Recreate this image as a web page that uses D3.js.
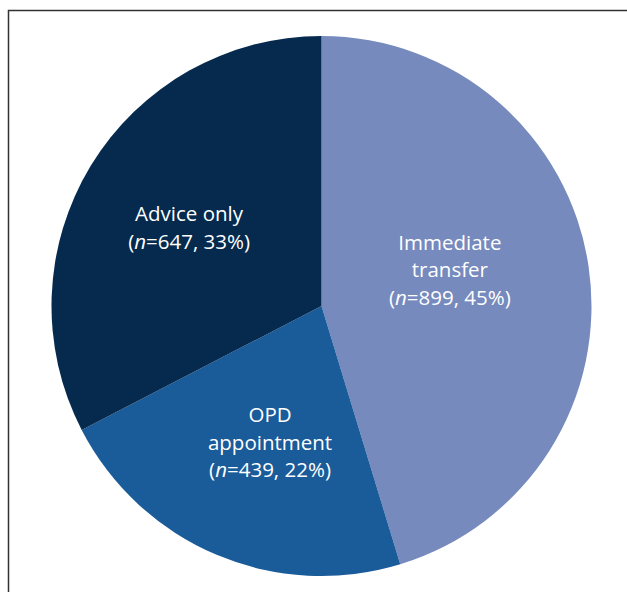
<!DOCTYPE html>
<meta charset="utf-8">
<style>
    body { margin: 0; background: #fff; }
    .label {
        fill: #fff;
        font-family: "Open Sans", sans-serif;
        font-size: 20.5px;
        text-anchor: middle;
    }
</style>
<svg width="627" height="592"></svg>
<script src="https://d3js.org/d3.v7.min.js"></script>
<script>

    // categories in drawing order, clockwise from 12 o'clock
    var categories = ["Immediate transfer", "OPD appointment", "Advice only"],
        labelLines = [["Immediate", "transfer"], ["OPD", "appointment"], ["Advice only"]],
        counts = [899, 439, 647],
        colors = ["#768abd", "#1a5b99", "#052a4e"];

    var svg = d3.select("svg"),
        cx = 321.5,
        cy = 306,
        radius = 270,
        total = d3.sum(counts);

    // frame around the figure (only top and left edges show)
    svg.append("path")
        .attr("d", "M8.5,592V10.5H627")
        .attr("fill", "none")
        .attr("stroke", "#333")
        .attr("stroke-width", 1.5);

    var data = categories.map(function (c, i) {
        return { name: c, lines: labelLines[i], n: counts[i], color: colors[i] };
    });

    var pie = d3.pie()
        .sort(null)
        .value(function (d) { return d.n; });

    var arc = d3.arc()
        .innerRadius(0)
        .outerRadius(radius);

    var labelArc = d3.arc()
        .innerRadius(148)
        .outerRadius(148);

    // small hand nudges so labels sit where the original put them
    var nudge = {
        "Immediate transfer": [-18, -14],
        "OPD appointment": [6, 0],
        "Advice only": [-6, -1]
    };

    var g = svg.append("g")
        .attr("transform", "translate(" + cx + "," + cy + ")");

    var slices = g.selectAll(".slice")
        .data(pie(data))
        .enter().append("g")
        .attr("class", "slice");

    slices.append("path")
        .attr("d", arc)
        .attr("fill", function (d) { return d.data.color; });

    var lineH = 27.5;

    slices.each(function (d) {
        var c = labelArc.centroid(d),
            off = nudge[d.data.name],
            lines = d.data.lines,
            nLines = lines.length + 1,
            top = c[1] + off[1] - (nLines - 1) * lineH / 2,
            pct = Math.round(d.data.n / total * 100);

        var text = d3.select(this).append("text")
            .attr("class", "label")
            .attr("transform", "translate(" + (c[0] + off[0]) + "," + top + ")");

        lines.forEach(function (l, i) {
            text.append("tspan")
                .attr("x", 0)
                .attr("y", i * lineH)
                .attr("dy", "0.35em")
                .text(l);
        });

        text.append("tspan")
            .attr("x", 0)
            .attr("y", lines.length * lineH)
            .attr("dy", "0.35em")
            .text("(");
        text.append("tspan")
            .attr("font-style", "italic")
            .text("n");
        text.append("tspan")
            .text("=" + d.data.n + ", " + pct + "%)");
    });

</script>
